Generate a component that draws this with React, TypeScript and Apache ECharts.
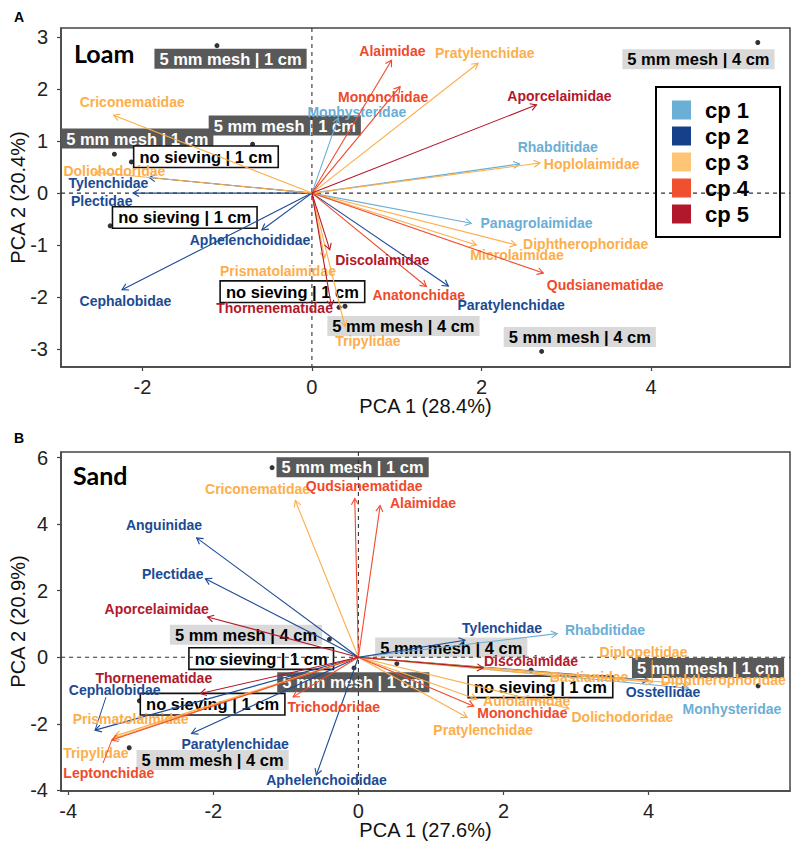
import React, { useEffect, useRef } from "react";
import * as echarts from "echarts";

// ---------- shared ----------
const cpClasses = ["cp 1", "cp 2", "cp 3", "cp 4", "cp 5"];
const cpColors = ["#6baed6", "#1c4a94", "#fdae4b", "#ef4a2b", "#b2182b"];
const cpLegendColors = ["#6baed6", "#17408b", "#fec576", "#ef5030", "#b2182b"];

// ---------- Panel A: Loam ----------
const loamTaxa = [
  "Criconematidae", "Dolichodoridae", "Tylenchidae", "Plectidae", "Aphelenchoididae",
  "Cephalobidae", "Discolaimidae", "Prismatolaimidae", "Thornenematidae", "Tripylidae",
  "Anatonchidae", "Paratylenchidae", "Panagrolaimidae", "Diphtherophoridae", "Microlaimidae",
  "Qudsianematidae", "Rhabditidae", "Hoplolaimidae", "Aporcelaimidae", "Pratylenchidae",
  "Alaimidae", "Mononchidae", "Monhysteridae",
];
const loamCp = [3, 3, 2, 2, 2, 2, 5, 3, 5, 3, 4, 2, 1, 3, 3, 4, 1, 3, 5, 3, 4, 4, 1];
const loamPc1 = [-2.34, -2.56, -1.92, -2.11, -0.59, -2.24, 0.21, 0.15, 0.23, 0.39, 1.35, 1.61, 1.88, 2.41, 1.94, 2.73, 2.45, 2.69, 2.65, 1.96, 0.94, 1.04, 0.31];
const loamPc2 = [1.5, 0.4, 0.3, 0.0, -0.71, -1.86, -1.09, -1.25, -2.18, -2.57, -1.8, -1.79, -0.58, -1.0, -1.0, -1.54, 0.56, 0.58, 1.7, 2.5, 2.56, 2.05, 1.45];
const loamLabelPc1 = [-2.12, -2.33, -2.4, -2.48, -0.73, -2.2, 0.83, -0.4, -0.44, 0.66, 1.26, 2.35, 2.65, 3.23, 2.42, 3.46, 2.9, 3.3, 2.92, 2.04, 0.95, 0.84, 0.53];
const loamLabelPc2 = [1.75, 0.43, 0.19, -0.15, -0.9, -2.07, -1.29, -1.51, -2.22, -2.85, -1.96, -2.15, -0.58, -0.98, -1.19, -1.77, 0.88, 0.56, 1.87, 2.7, 2.74, 1.86, 1.56];
const loamSegPc1 = loamTaxa.map(() => null as number | null);
const loamSegPc2 = loamTaxa.map(() => null as number | null);

const loamSampleNames = [
  "5 mm mesh | 1 cm", "5 mm mesh | 1 cm", "no sieving | 1 cm", "5 mm mesh | 1 cm", "no sieving | 1 cm",
  "no sieving | 1 cm", "5 mm mesh | 4 cm", "5 mm mesh | 4 cm", "5 mm mesh | 4 cm",
];
const loamSamplePc1 = [-1.12, -2.33, -2.13, -0.7, -2.38, 0.32, 0.39, 2.71, 5.26];
const loamSamplePc2 = [2.84, 0.75, 0.6, 0.94, -0.63, -2.2, -2.18, -3.05, 2.9];
const loamSampleLabelPc1 = [-0.96, -2.06, -1.25, -0.32, -1.5, -0.23, 1.08, 3.16, 4.56];
const loamSampleLabelPc2 = [2.59, 1.05, 0.7, 1.3, -0.47, -1.9, -2.56, -2.77, 2.58];

// ---------- Panel B: Sand ----------
const sandTaxa = [
  "Criconematidae", "Qudsianematidae", "Alaimidae", "Anguinidae", "Plectidae", "Aporcelaimidae",
  "Thornenematidae", "Cephalobidae", "Prismatolaimidae", "Tripylidae", "Leptonchidae",
  "Paratylenchidae", "Aphelenchoididae", "Trichodoridae", "Tylenchidae", "Rhabditidae",
  "Discolaimidae", "Diplopeltidae", "Bastianidae", "Osstellidae", "Monhysteridae",
  "Diphtherophoridae", "Aulolaimidae", "Mononchidae", "Dolichodoridae", "Pratylenchidae",
];
const sandCp = [3, 4, 4, 2, 2, 5, 5, 2, 3, 3, 4, 2, 2, 4, 2, 1, 5, 3, 3, 2, 1, 3, 3, 4, 3, 3];
const sandPc1 = [-0.87, -0.05, 0.3, -2.23, -2.11, -2.08, -2.18, -3.63, -3.38, -3.36, -3.4, -2.3, -0.58, -0.9, 1.47, 2.74, 1.72, 4.05, 2.78, 4.0, 4.55, 4.57, 1.63, 1.59, 2.9, 1.5];
const sandPc2 = [4.71, 4.77, 4.56, 3.59, 2.36, 1.21, -1.09, -2.19, -2.44, -2.37, -2.49, -2.29, -3.54, -1.19, 0.51, 0.71, -0.32, -0.75, -0.57, -0.69, -0.93, -0.81, -1.26, -1.47, -1.54, -1.81];
const sandLabelPc1 = [-1.39, 0.08, 0.89, -2.68, -2.56, -2.78, -2.82, -3.36, -3.14, -3.62, -3.44, -1.7, -0.44, -0.34, 1.98, 3.4, 2.38, 3.93, 3.18, 4.2, 5.15, 5.03, 2.32, 2.26, 3.64, 1.72];
const sandLabelPc2 = [5.05, 5.16, 4.65, 3.98, 2.51, 1.46, -0.61, -0.99, -1.87, -2.87, -3.49, -2.61, -3.69, -1.51, 0.89, 0.81, -0.11, 0.16, -0.6, -1.04, -1.57, -0.67, -1.31, -1.69, -1.79, -2.19];
const sandSegPc1: (number | null)[] = [null, null, null, null, null, null, null, -3.48, null, null, -3.52, null, null, null, null, null, null, 4.05, null, null, null, null, null, null, null, null];
const sandSegPc2: (number | null)[] = [null, null, null, null, null, null, null, -1.2, null, null, -3.18, null, null, null, null, null, null, -0.08, null, null, null, null, null, null, null, null];

const sandSampleNames = [
  "5 mm mesh | 1 cm", "5 mm mesh | 4 cm", "no sieving | 1 cm", "5 mm mesh | 1 cm", "no sieving | 1 cm",
  "5 mm mesh | 4 cm", "5 mm mesh | 4 cm", "no sieving | 1 cm", "5 mm mesh | 1 cm",
];
const sandSamplePc1 = [-1.19, -0.4, -0.45, -0.06, -3.02, -3.16, 0.53, 2.38, 5.51];
const sandSamplePc2 = [5.7, 0.54, -0.05, -0.32, -1.31, -2.72, -0.19, -0.39, -0.86];
const sandSampleLabelPc1 = [-0.08, -1.55, -1.34, -0.07, -2.01, -2.01, 1.28, 2.51, 4.82];
const sandSampleLabelPc2 = [5.71, 0.68, -0.04, -0.75, -1.41, -3.09, 0.29, -0.89, -0.32];

const FONT = "Liberation Sans";

type Panel = {
  taxa: string[]; cp: number[]; x: number[]; y: number[]; lx: number[]; ly: number[];
  sx: (number | null)[]; sy: (number | null)[];
  sNames: string[]; sX: number[]; sY: number[]; sLx: number[]; sLy: number[];
};

const panels: Panel[] = [
  { taxa: loamTaxa, cp: loamCp, x: loamPc1, y: loamPc2, lx: loamLabelPc1, ly: loamLabelPc2, sx: loamSegPc1, sy: loamSegPc2,
    sNames: loamSampleNames, sX: loamSamplePc1, sY: loamSamplePc2, sLx: loamSampleLabelPc1, sLy: loamSampleLabelPc2 },
  { taxa: sandTaxa, cp: sandCp, x: sandPc1, y: sandPc2, lx: sandLabelPc1, ly: sandLabelPc2, sx: sandSegPc1, sy: sandSegPc2,
    sNames: sandSampleNames, sX: sandSamplePc1, sY: sandSamplePc2, sLx: sandSampleLabelPc1, sLy: sandSampleLabelPc2 },
];

function arrowSeries(p: Panel, cpIdx: number, g: number) {
  const idx: number[] = [];
  p.cp.forEach((c, i) => { if (c === cpIdx + 1) idx.push(i); });
  const color = cpColors[cpIdx];
  return {
    type: "custom",
    name: cpClasses[cpIdx],
    xAxisIndex: g,
    yAxisIndex: g,
    z: 3,
    clip: false,
    silent: true,
    itemStyle: { color },
    data: idx.map((i) => [p.x[i], p.y[i], p.lx[i], p.ly[i]]),
    renderItem: (params: any, api: any) => {
      const i = idx[params.dataIndex];
      const o = api.coord([0, 0]);
      const t = api.coord([api.value(0), api.value(1)]);
      const l = api.coord([api.value(2), api.value(3)]);
      const ang = Math.atan2(t[1] - o[1], t[0] - o[0]);
      const L = 7, a = Math.PI / 6;
      const p1 = [t[0] - L * Math.cos(ang - a), t[1] - L * Math.sin(ang - a)];
      const p2 = [t[0] - L * Math.cos(ang + a), t[1] - L * Math.sin(ang + a)];
      const children: any[] = [
        { type: "line", shape: { x1: o[0], y1: o[1], x2: t[0], y2: t[1] }, style: { stroke: color, lineWidth: 1.1 } },
        { type: "polyline", shape: { points: [p1, t, p2] }, style: { stroke: color, lineWidth: 1.1, fill: null } },
      ];
      if (p.sx[i] != null && p.sy[i] != null) {
        const s = api.coord([p.sx[i], p.sy[i]]);
        children.push({ type: "line", shape: { x1: s[0], y1: s[1], x2: t[0], y2: t[1] }, style: { stroke: color, lineWidth: 1 } });
      }
      children.push({
        type: "text",
        style: {
          text: p.taxa[i], x: l[0], y: l[1], align: "center", verticalAlign: "middle",
          fill: color, fontSize: 14, fontWeight: "bold", fontFamily: FONT,
        },
      });
      return { type: "group", children };
    },
  };
}

function sampleLabelSeries(p: Panel, g: number) {
  return {
    type: "custom",
    xAxisIndex: g,
    yAxisIndex: g,
    z: 1,
    clip: false,
    silent: true,
    data: p.sNames.map((_, i) => [p.sLx[i], p.sLy[i]]),
    renderItem: (params: any, api: any) => {
      const name = p.sNames[params.dataIndex];
      const c = api.coord([api.value(0), api.value(1)]);
      let bg = "#ffffff", fg = "#000000", bc: string | undefined = "#111", bw = 1.6;
      if (name.indexOf("no sieving") < 0) {
        if (name.indexOf("1 cm") >= 0) { bg = "#595959"; fg = "#ffffff"; }
        else { bg = "#d9d9d9"; fg = "#000000"; }
        bc = undefined; bw = 0;
      }
      return {
        type: "text",
        style: {
          text: name, x: c[0], y: c[1], align: "center", verticalAlign: "middle",
          fill: fg, fontSize: 16.5, fontWeight: "bold", fontFamily: FONT,
          backgroundColor: bg, borderColor: bc, borderWidth: bw, padding: [2, 5, 1, 5],
        },
      };
    },
  };
}

function zeroLineSeries(g: number) {
  return {
    type: "custom",
    xAxisIndex: g,
    yAxisIndex: g,
    z: 2,
    silent: true,
    data: [[0, 0]],
    renderItem: (params: any, api: any) => {
      const cs = params.coordSys;
      const o = api.coord([api.value(0), api.value(1)]);
      const st = { stroke: "#333", lineWidth: 1.1, lineDash: [4, 4] };
      return {
        type: "group",
        children: [
          { type: "line", shape: { x1: o[0], y1: cs.y, x2: o[0], y2: cs.y + cs.height }, style: st },
          { type: "line", shape: { x1: cs.x, y1: o[1], x2: cs.x + cs.width, y2: o[1] }, style: st },
        ],
      };
    },
  };
}

function axisCommon(ticks: number[], margin: number) {
  return {
    type: "value",
    splitLine: { show: false },
    axisLine: { show: true, onZero: false, lineStyle: { color: "#444", width: 1.5 } },
    axisTick: { show: true, customValues: ticks, length: 4, lineStyle: { color: "#444", width: 1.2 } },
    axisLabel: { customValues: ticks, fontSize: 20, color: "#222", fontFamily: FONT, margin },
    nameLocation: "middle",
    nameMoveOverlap: false,
    nameTextStyle: { fontSize: 20, color: "#111", fontFamily: FONT },
  };
}

export default function App() {
  const ref = useRef<HTMLDivElement>(null);
  useEffect(() => {
    if (!ref.current) return;
    const chart = echarts.init(ref.current, undefined, { renderer: "svg" });
    const series: any[] = [];
    panels.forEach((p, g) => {
      series.push({
        type: "scatter",
        xAxisIndex: g,
        yAxisIndex: g,
        z: 0,
        silent: true,
        symbolSize: 5,
        itemStyle: { color: "#000" },
        data: p.sX.map((v, i) => [v, p.sY[i]]),
      });
      series.push(sampleLabelSeries(p, g));
      series.push(zeroLineSeries(g));
      for (let c = 0; c < 5; c++) series.push(arrowSeries(p, c, g));
    });
    const option: any = {
      animation: false,
      backgroundColor: "#fff",
      title: [
        { text: "A", left: 14, top: 10, padding: 0, textStyle: { fontSize: 14, fontWeight: "bold", fontFamily: FONT, color: "#000" } },
        { text: "Loam", left: 74, top: 40, padding: 0, textStyle: { fontSize: 25, fontWeight: "bold", fontFamily: "Lato", color: "#000" } },
        { text: "B", left: 14, top: 431, padding: 0, textStyle: { fontSize: 14, fontWeight: "bold", fontFamily: FONT, color: "#000" } },
        { text: "Sand", left: 73, top: 462, padding: 0, textStyle: { fontSize: 25, fontWeight: "bold", fontFamily: "Lato", color: "#000" } },
      ],
      legend: {
        orient: "vertical",
        left: 656,
        top: 87,
        padding: [12, 31, 12, 16],
        itemWidth: 19,
        itemHeight: 19,
        itemGap: 4,
        icon: "rect",
        selectedMode: false,
        borderColor: "#000",
        borderWidth: 2,
        textStyle: { fontSize: 22, fontWeight: "bold", fontFamily: FONT, color: "#000", padding: [0, 0, 0, 9] },
        data: cpClasses.map((n, i) => ({ name: n, itemStyle: { color: cpLegendColors[i] } })),
      },
      grid: [
        { left: 61, top: 28, width: 729, height: 339, show: true, borderColor: "#444", borderWidth: 1.5, containLabel: false, outerBoundsMode: "none" },
        { left: 61, top: 452, width: 729, height: 339, show: true, borderColor: "#444", borderWidth: 1.5, containLabel: false, outerBoundsMode: "none" },
      ],
      xAxis: [
        { ...axisCommon([-2, 0, 2, 4], 10), gridIndex: 0, min: -2.96, max: 5.64, name: "PCA 1 (28.4%)", nameGap: 29 },
        { ...axisCommon([-4, -2, 0, 2, 4], 10), gridIndex: 1, min: -4.1, max: 5.95, name: "PCA 1 (27.6%)", nameGap: 29 },
      ],
      yAxis: [
        { ...axisCommon([-3, -2, -1, 0, 1, 2, 3], 13), gridIndex: 0, min: -3.35, max: 3.18, name: "PCA 2 (20.4%)", nameGap: 33 },
        { ...axisCommon([-4, -2, 0, 2, 4, 6], 13), gridIndex: 1, min: -4.02, max: 6.17, name: "PCA 2 (20.9%)", nameGap: 33 },
      ],
      series,
    };
    chart.setOption(option);
    return () => chart.dispose();
  }, []);
  return <div ref={ref} style={{ width: 800, height: 852, margin: -8 }} />;
}
